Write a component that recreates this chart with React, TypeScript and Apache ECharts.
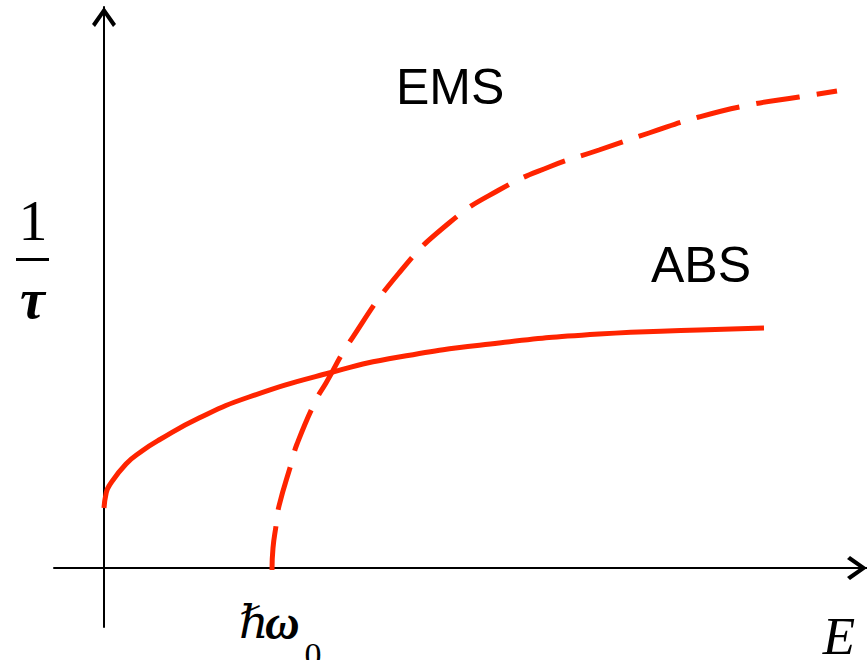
import React, { useEffect, useRef } from "react";
import * as echarts from "echarts";

// ABS (solid) curve: energy vs scattering rate
const absE = [0, 0.2, 0.5, 2.2, 3.8, 5.5, 9.5, 14.5, 22.5, 29.5, 39.5, 49.5, 59.5, 66];
const absRate = [6.0, 7.4, 8.2, 10.4, 11.7, 12.8, 15.0, 17.1, 19.5, 21.1, 22.5, 23.4, 23.8, 24.0];

// EMS (dashed) curve: starts at the phonon energy
const emsE = [16.8, 16.9, 17.2, 17.5, 18.8, 19.3, 21.2, 22.2, 24.5, 29.5, 34.5, 39.5, 44.5, 49.5, 54.5, 59.5, 64.5, 69.5, 73.3];
const emsRate = [-0.2, 2.0, 4.2, 6.2, 10.7, 12.4, 16.8, 18.5, 22.5, 29.5, 34.5, 37.8, 40.1, 41.8, 43.5, 45.1, 46.3, 47.1, 47.7];

const labels = { ems: "EMS", abs: "ABS", yNum: "1", yDen: "τ", xName: "E", hbar: "ℏ", omega: "ω", sub: "0" };

const RED = "#ff2400";
const SANS = "'Liberation Sans', Arial, sans-serif";
const SERIF = "'Liberation Serif', 'Times New Roman', 'DejaVu Serif', serif";
const CHEVRON = "path://M12 0 L24 17 L21 20 L12 7 L3 20 L0 17 Z";

export default function App() {
  const ref = useRef<HTMLDivElement>(null);
  useEffect(() => {
    if (!ref.current) return;
    const chart = echarts.init(ref.current, undefined, { renderer: "svg" });
    const axisCommon = {
      type: "value" as const,
      axisLabel: { show: false },
      axisTick: { show: false },
      splitLine: { show: false },
      axisLine: {
        show: true,
        onZero: true,
        lineStyle: { color: "#000", width: 2 },
        symbol: ["none", CHEVRON],
        symbolSize: [24, 20],
        symbolOffset: [0, -10],
      },
    };
    chart.setOption({
      animation: false,
      backgroundColor: "#fff",
      grid: { left: 54, right: 0, top: 7, bottom: 33 },
      xAxis: { ...axisCommon, min: -5, max: 76.3 },
      yAxis: { ...axisCommon, min: -5.9, max: 56.1 },
      series: [
        {
          type: "line",
          data: absE.map((e, i) => [e, absRate[i]]),
          showSymbol: false,
          symbol: "none",
          smooth: 0.5,
          lineStyle: { color: RED, width: 5, cap: "butt" },
        },
        {
          type: "line",
          data: emsE.map((e, i) => [e, emsRate[i]]),
          showSymbol: false,
          symbol: "none",
          smooth: 0.5,
          lineStyle: { color: RED, width: 5, type: [44, 17], cap: "butt" },
        },
      ],
      graphic: [
        { type: "text", x: 396, y: 86.5, style: { text: labels.ems, font: `50px ${SANS}`, fill: "#000", textVerticalAlign: "middle" } },
        { type: "text", x: 651, y: 264.5, style: { text: labels.abs, font: `50px ${SANS}`, fill: "#000", textVerticalAlign: "middle" } },
        { type: "text", x: 33, y: 220, style: { text: labels.yNum, font: `58px ${SERIF}`, fill: "#000", textAlign: "center", textVerticalAlign: "middle" } },
        { type: "line", shape: { x1: 16, y1: 259.5, x2: 49, y2: 259.5 }, style: { stroke: "#000", lineWidth: 3 } },
        { type: "text", x: 32.5, y: 298.5, style: { text: labels.yDen, font: `italic bold 56px ${SERIF}`, fill: "#000", textAlign: "center", textVerticalAlign: "middle" } },
        { type: "text", x: 839, y: 636, style: { text: labels.xName, font: `italic 53px ${SERIF}`, fill: "#000", textAlign: "center", textVerticalAlign: "middle" } },
        { type: "text", x: 239, y: 622.5, style: { text: labels.hbar, font: `italic 46px ${SERIF}`, fill: "#000", textVerticalAlign: "middle" } },
        { type: "text", x: 265, y: 622.5, style: { text: labels.omega, font: `italic bold 48px ${SERIF}`, fill: "#000", textVerticalAlign: "middle" } },
        { type: "text", x: 313, y: 654, style: { text: labels.sub, font: `34px ${SERIF}`, fill: "#000", textAlign: "center", textVerticalAlign: "middle" } },
      ],
    });
    return () => chart.dispose();
  }, []);
  return <div ref={ref} style={{ position: "fixed", left: 0, top: 0, width: 867, height: 660 }} />;
}
